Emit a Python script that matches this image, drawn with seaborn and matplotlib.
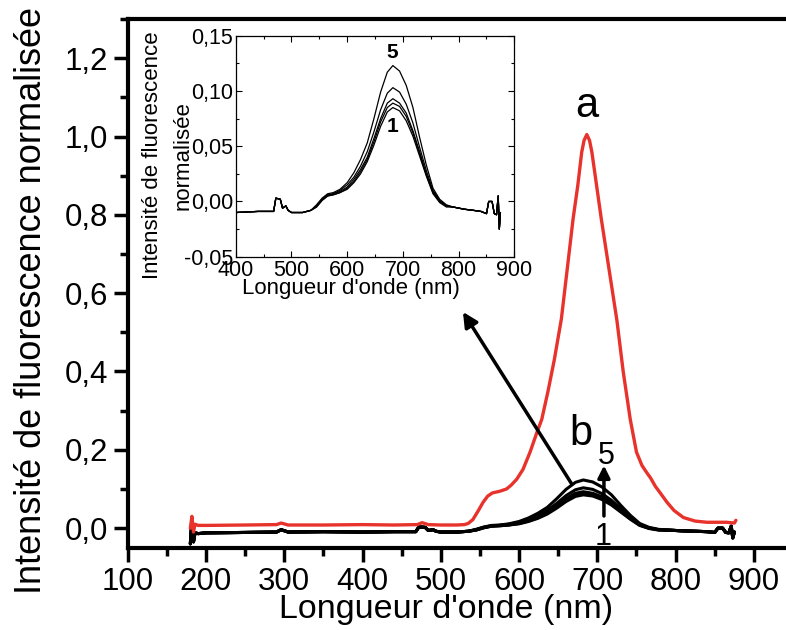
import numpy as np
import pandas as pd
import matplotlib
matplotlib.use('Agg')
import matplotlib.pyplot as plt
from matplotlib.ticker import MultipleLocator, FuncFormatter
import seaborn as sns

# --- data (wavelength in nm, normalised intensity) ---
# curve a (red)
red_x = [180, 182, 184, 186, 190, 200, 250, 290, 296, 305, 350, 400, 440, 470, 476, 484,
         500, 520, 530, 535, 541, 548, 554, 560, 566, 575, 584, 590, 597, 605, 614, 622,
         629, 637, 645, 654, 662, 669, 675, 680, 683, 686.5, 690, 693, 699, 705, 715, 725,
         733, 742, 750, 757, 763, 768, 774, 781, 789, 798, 810, 825, 840, 852, 865, 875, 877]
red_y = [0.000, 0.030, -0.010, 0.010, 0.007, 0.007, 0.008, 0.009, 0.013, 0.008, 0.008, 0.009,
         0.008, 0.009, 0.014, 0.009, 0.008, 0.008, 0.009, 0.012, 0.022, 0.045, 0.066, 0.082,
         0.090, 0.094, 0.100, 0.110, 0.125, 0.150, 0.194, 0.240, 0.278, 0.350, 0.430, 0.534,
         0.670, 0.790, 0.875, 0.960, 0.990, 1.005, 0.990, 0.960, 0.875, 0.790, 0.660, 0.530,
         0.400, 0.278, 0.194, 0.160, 0.142, 0.128, 0.107, 0.088, 0.066, 0.045, 0.027, 0.018,
         0.015, 0.015, 0.015, 0.013, 0.020]

# curves b (1 to 5, black) : shared baseline + peak region per curve
base_left_x = [180, 182, 184, 186, 190, 200, 250, 290, 296, 305, 350, 400, 440, 468, 472,
               480, 484, 490, 494, 500, 520, 535]
base_left_y = [-0.040, 0.020, -0.035, -0.012, -0.014, -0.012, -0.011, -0.010, -0.004, -0.010,
               -0.009, -0.010, -0.009, -0.009, 0.003, 0.002, -0.006, -0.004, -0.008, -0.010,
               -0.010, -0.008]
peak_x = [545, 555, 565, 575, 587, 600, 612, 624, 636, 648, 660, 672, 682, 694, 706, 718,
          730, 742, 754, 766, 778]
peak_1 = [-0.005, 0.001, 0.005, 0.006, 0.008, 0.011, 0.017, 0.025, 0.036, 0.051, 0.068, 0.081,
          0.085, 0.082, 0.073, 0.059, 0.041, 0.023, 0.007, -0.001, -0.005]
peak_2 = [-0.005, 0.001, 0.005, 0.006, 0.008, 0.012, 0.018, 0.027, 0.038, 0.054, 0.072, 0.085,
          0.089, 0.086, 0.077, 0.062, 0.043, 0.024, 0.008, 0.000, -0.004]
peak_3 = [-0.004, 0.002, 0.006, 0.007, 0.009, 0.013, 0.020, 0.029, 0.040, 0.057, 0.075, 0.089,
          0.093, 0.089, 0.080, 0.064, 0.045, 0.025, 0.009, 0.000, -0.004]
peak_4 = [-0.004, 0.002, 0.006, 0.007, 0.010, 0.015, 0.022, 0.032, 0.045, 0.063, 0.083, 0.098,
          0.103, 0.099, 0.088, 0.071, 0.049, 0.028, 0.010, 0.001, -0.004]
peak_5 = [-0.003, 0.003, 0.007, 0.008, 0.011, 0.017, 0.026, 0.038, 0.053, 0.075, 0.099, 0.117,
          0.123, 0.118, 0.105, 0.085, 0.058, 0.033, 0.012, 0.002, -0.003]
base_right_x = [790, 810, 826, 840, 850, 854, 860, 864, 868, 871, 873, 875]
base_right_y = [-0.005, -0.007, -0.008, -0.009, -0.011, 0.000, 0.000, -0.011, -0.012, 0.005,
                -0.025, -0.010]

curve_names = ['1', '2', '3', '4', '5']
peaks = [peak_1, peak_2, peak_3, peak_4, peak_5]

rows = []
for name, pk in zip(curve_names, peaks):
    xs = base_left_x + peak_x + base_right_x
    ys = base_left_y + pk + base_right_y
    for i, (xv, yv) in enumerate(zip(xs, ys)):
        rows.append({'courbe': name, 'ordre': i, 'lambda': xv, 'I': yv})
df_b = pd.DataFrame(rows)
df_a = pd.DataFrame({'lambda': red_x, 'I': red_y})

sns.set_theme(style='ticks')
plt.rcParams['font.family'] = ['Liberation Sans', 'DejaVu Sans']
plt.rcParams.update({'axes.linewidth': 3, 'axes.edgecolor': 'black', 'text.color': 'black',
                     'axes.labelcolor': 'black', 'xtick.color': 'black',
                     'ytick.color': 'black'})

RED = '#e8322c'
black_pal = {n: 'black' for n in curve_names}

fig = plt.figure(figsize=(7.86, 6.3), dpi=100)
ax = fig.add_axes([0.1625, 0.1306, 0.8375, 0.8392])

sns.lineplot(data=df_b, x='lambda', y='I', hue='courbe', palette=black_pal, units='courbe',
             estimator=None, sort=False, lw=2.2, legend=False, ax=ax)
sns.lineplot(data=df_a, x='lambda', y='I', color=RED, estimator=None, sort=False, lw=2.4, ax=ax)

ax.set_xlim(100, 941)
ax.set_ylim(-0.05, 1.3)
ax.xaxis.set_major_locator(MultipleLocator(100))
ax.xaxis.set_minor_locator(MultipleLocator(50))
ax.yaxis.set_major_locator(MultipleLocator(0.2))
ax.yaxis.set_minor_locator(MultipleLocator(0.1))
ax.yaxis.set_major_formatter(FuncFormatter(lambda v, p: f"{v:.1f}".replace('.', ',')))
ax.tick_params(which='major', direction='out', length=10, width=2.5, labelsize=22.5, pad=4,
               top=False, right=False)
ax.tick_params(which='minor', direction='out', length=6, width=2.5, top=False, right=False)
ax.spines['right'].set_visible(False)
ax.set_xlabel("Longueur d'onde (nm)", fontsize=24.5)
ax.set_ylabel("Intensité de fluorescence normalisée", fontsize=26)
ax.xaxis.set_label_coords(0.4835, -0.088)
ax.yaxis.set_label_coords(-0.12, 0.467)

ax.text(686, 1.05, 'a', fontsize=30, ha='center', va='baseline')
ax.text(679, 0.2115, 'b', fontsize=30, ha='center', va='baseline')
ax.text(711, 0.163, '5', fontsize=22, ha='center', va='baseline')
ax.text(708, -0.042, '1', fontsize=22, ha='center', va='baseline')
ax.annotate('', xy=(708.4, 0.160), xytext=(708.4, 0.031),
            arrowprops=dict(arrowstyle='-|>', lw=2.5, color='black', mutation_scale=18,
                            shrinkA=0, shrinkB=0))
ax.annotate('', xy=(528.3, 0.552), xytext=(667.5, 0.112),
            arrowprops=dict(arrowstyle='-|>', lw=2.5, color='black', mutation_scale=22,
                            shrinkA=0, shrinkB=0))

# inset: zoom on curves b
ins = fig.add_axes([0.2999, 0.5925, 0.3545, 0.3508])
ins.set_facecolor('white')
sns.lineplot(data=df_b, x='lambda', y='I', hue='courbe', palette=black_pal, units='courbe',
             estimator=None, sort=False, lw=0.9, legend=False, ax=ins)
ins.set_xlim(400, 900)
ins.set_ylim(-0.05, 0.15)
ins.xaxis.set_major_locator(MultipleLocator(100))
ins.xaxis.set_minor_locator(MultipleLocator(50))
ins.yaxis.set_major_locator(MultipleLocator(0.05))
ins.yaxis.set_minor_locator(MultipleLocator(0.025))
ins.yaxis.set_major_formatter(FuncFormatter(lambda v, p: f"{v:.2f}".replace('.', ',')))
for s in ins.spines.values():
    s.set_linewidth(0.9)
ins.tick_params(which='both', direction='in', top=True, right=True, width=0.8, labelsize=15.5,
                pad=2)
ins.tick_params(which='major', length=4)
ins.tick_params(which='minor', length=2.5)
ins.set_xlabel("Longueur d'onde (nm)", fontsize=16)
ins.set_ylabel("Intensité de fluorescence\nnormalisée", fontsize=16, linespacing=1.65)
ins.xaxis.set_label_coords(0.414, -0.098)
ins.yaxis.set_label_coords(-0.15, 0.46)
ins.text(680.5, 0.135, '5', fontsize=15, fontweight='bold', ha='center', va='center')
ins.text(682, 0.068, '1', fontsize=15, fontweight='bold', ha='center', va='center')

fig.savefig('out.png', dpi=100)
